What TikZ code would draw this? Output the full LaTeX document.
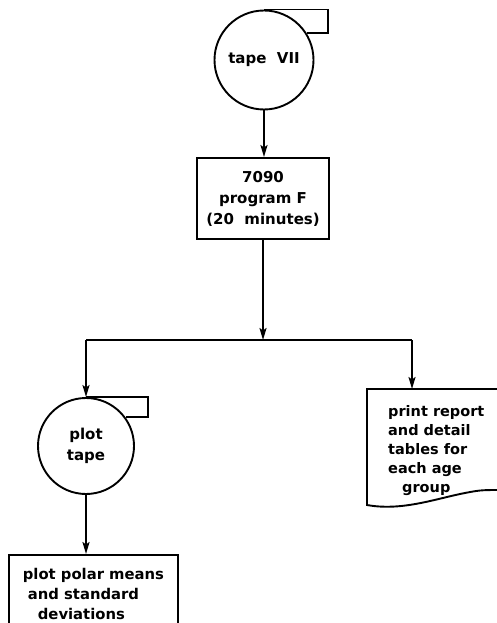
\documentclass[tikz,border=0pt]{standalone}
\usepackage{fontspec}
\setmainfont{DejaVu Sans}
\usepackage{tikz}
\usetikzlibrary{arrows.meta,positioning}
\tikzset{
  edge/.style={line width=1.9pt,color=black},
  arr/.style={edge,-{Stealth[length=12pt,width=7pt,inset=2.5pt]}},
  tape/.style={circle,draw,line width=1.9pt,align=center,inner sep=0pt,font=\txtfont},
  proc/.style={rectangle,draw,line width=1.9pt,align=center,inner sep=4pt,font=\txtfont},
  doctext/.style={align=left,inner sep=0pt,font=\bfseries\fontsize{14.5}{19}\selectfont},
}
\newcommand{\txtfont}{\bfseries\fontsize{15}{21}\selectfont}

\begin{document}
\begin{tikzpicture}[x=1pt,y=-1pt]
  \useasboundingbox (0,0) rectangle (496,623);
  % tape in
  \node[tape,minimum size=99] (tapeA) at (264,60) {tape\ \ VII};
  \draw[edge] (tapeA.north) -- ++(64,0) |- (tapeA.32);
  % run
  \node[proc,minimum width=132,minimum height=81] (prog) at (263,198.5) {7090\\program\ F\\(20\ \ minutes)};
  \draw[arr] (tapeA.south) -- (tapeA.south |- prog.north);
  \coordinate (fork) at (263,340);
  \draw[arr] (prog.south) -- (fork);
  % plot branch
  \node[tape,minimum size=96] (tapeB) at (86,446) {plot\\tape};
  \draw[edge] (tapeB.north) -- ++(62,0) |- (tapeB.36);
  \node[proc,anchor=north west,minimum width=169,minimum height=78,align=left,
        font=\bfseries\fontsize{14.8}{20}\selectfont] (plotbox) at (8,554)
    {plot polar means\\\hspace{5pt}and standard\\\hspace{15pt}deviations};
  \draw[arr] (tapeB.south) -- (tapeB.south |- plotbox.north);
  % report branch
  \coordinate (docin) at (412,389);
  \node[doctext,anchor=north west] (report) at (388,405) {print report\\and detail\\tables for\\each age\\\hspace{14pt}group};
  \draw[edge] (502,389) -- (367,389) -- (367,505)
    .. controls (400,511) and (432,500) .. (460,494)
    .. controls (480,490) .. (502,490);
  % split
  \draw[edge] (fork -| tapeB.north) -- (fork -| docin);
  \draw[arr] (fork -| tapeB.north) -- (tapeB.north);
  \draw[arr] (fork -| docin) -- (docin);
\end{tikzpicture}
\end{document}
